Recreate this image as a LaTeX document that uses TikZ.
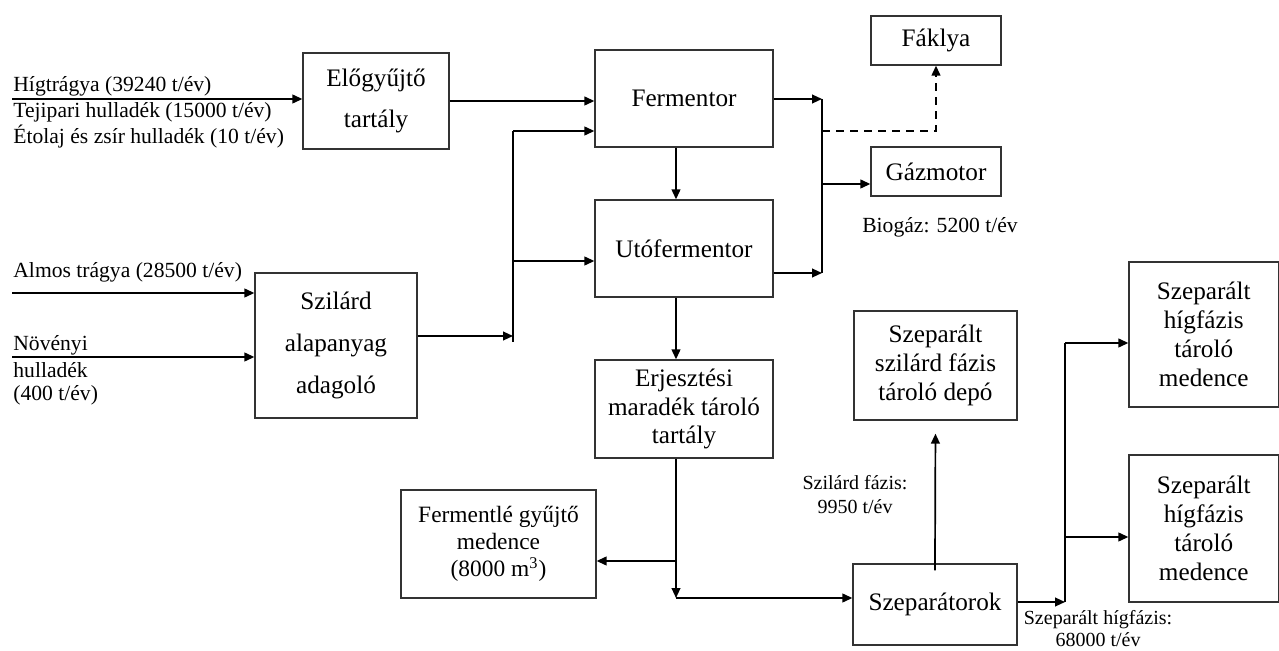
\documentclass[tikz,border=0pt]{standalone}
\usepackage{fontspec}
\setmainfont{Liberation Serif}
\usetikzlibrary{calc,arrows.meta}

\tikzset{
  doboz/.style={draw=black!80, line width=0.65pt, rectangle, align=center, inner sep=0pt},
  szoveg/.style={font=\fontsize{12.6}{14.4}\selectfont},
  ritka/.style={font=\fontsize{12.6}{20.8}\selectfont},
  nyil/.style={-{Triangle[length=5pt,width=4.4pt]}, line width=0.85pt},
  vonal/.style={line width=0.85pt},
  cimke/.style={font=\fontsize{10.8}{13}\selectfont, inner sep=0pt},
  kiscimke/.style={font=\fontsize{10}{11.5}\selectfont, inner sep=0pt},
}

\begin{document}
\begin{tikzpicture}[x=0.5pt,y=-0.5pt]
\useasboundingbox (0,0) rectangle (1279,651);

% tartalyok
\node [doboz, ritka, minimum width=73pt, minimum height=48pt] (elo) at (376,101) {Előgyűjtő\\tartály};
\node [doboz, ritka, minimum width=81pt, minimum height=72.5pt] (szil) at (336,345.5) {Szilárd\\alapanyag\\adagoló};
\node [doboz, szoveg, minimum width=89pt, minimum height=48.5pt] (ferm) at (684,98.5) {Fermentor};
\node [doboz, szoveg, minimum width=89pt, minimum height=48.5pt] (uto) at (684,248.5) {Utófermentor};
\node [doboz, szoveg, minimum width=89pt, minimum height=49pt] (erj) at (684,409) {Erjesztési\\maradék tároló\\tartály};
\node [doboz, szoveg, minimum width=65pt, minimum height=24.5pt] (fakl) at (936,40.5) {Fáklya};
\node [doboz, szoveg, minimum width=65pt, minimum height=24.5pt] (gaz) at (936,171.5) {Gázmotor};
\node [doboz, font=\fontsize{11.7}{13.6}\selectfont, minimum width=97.5pt, minimum height=54pt] (ferml) at (498.5,544) {Fermentlé gyűjtő\\medence\\(8000 m\textsuperscript{3})};
\node [doboz, szoveg, minimum width=82pt, minimum height=40.5pt] (sep) at (935,604.5) {Szeparátorok};
\node [doboz, szoveg, minimum width=81.5pt, minimum height=54.5pt] (depo) at (935.5,365.5) {Szeparált\\szilárd fázis\\tároló depó};
\node [doboz, szoveg, minimum width=74.75pt, minimum height=72.5pt] (hig1) at (1203.75,334.5) {Szeparált\\hígfázis\\tároló\\medence};
\node [doboz, szoveg, minimum width=74.75pt, minimum height=73.5pt] (hig2) at (1203.75,528.5) {Szeparált\\hígfázis\\tároló\\medence};

% bemenetek
\coordinate (be1) at (12,99);
\coordinate (be2) at (12,293);
\coordinate (be3) at (12,357);
\node [cimke, anchor=west] (hig) at (13,86) {Hígtrágya (39240 t/év)};
\node [cimke, anchor=west] (tej) at (13,112) {Tejipari hulladék (15000 t/év)};
\node [cimke, anchor=west] (eto) at (13,137) {Étolaj és zsír hulladék (10 t/év)};
\node [cimke, anchor=west] (alm) at (13,272) {Almos trágya (28500 t/év)};
\node [cimke, anchor=west] (nov1) at (13,345) {Növényi};
\node [cimke, anchor=west] (nov2) at (13,370) {hulladék};
\node [cimke, anchor=west] (nov3) at (13,395) {(400 t/év)};
\draw[nyil] (be1) -- (be1 -| elo.west);
\draw[nyil] (be2) -- (be2 -| szil.west);
\draw[nyil] (be3) -- (be3 -| szil.west);

\draw[nyil] (elo.east) -- (elo.east -| ferm.west);

% szilard ag
\coordinate (gy1) at (513,342);
\coordinate (gy1t) at (513,131);
\coordinate (gy1u) at (513,261);
\draw[vonal] (gy1) -- (gy1t);
\draw[nyil] ($(szil.east)+(0,-9.5)$) -- ($(szil.east -| gy1)+(0,-9.5)$);
\draw[nyil] (gy1t) -- (gy1t -| ferm.west);
\draw[nyil] (gy1u) -- (gy1u -| uto.west);

\draw[nyil] ($(ferm.south)+(-8,0)$) -- ($(uto.north)+(-8,0)$);
\draw[nyil] ($(uto.south)+(-8,0)$) -- ($(erj.north)+(-8,0)$);

% biogaz
\coordinate (gy2t) at (822,99);
\coordinate (gy2b) at (822,273);
\coordinate (gy2d) at (822,131);
\coordinate (gy2g) at (822,184);
\draw[vonal] (gy2t) -- (gy2b);
\draw[nyil] (ferm.east |- gy2t) -- (gy2t);
\draw[nyil] (uto.east |- gy2b) -- (gy2b);
\draw[nyil, dashed, dash pattern=on 4pt off 3pt] (gy2d) -- (gy2d -| fakl.south) -- (fakl.south);
\draw[nyil] (gy2g) -- (gy2g -| gaz.west);
\node [cimke] (bio) at (940,227) {Biogáz: 5200 t/év};

% erjesztesi maradek
\coordinate (sarok) at (676,598);
\coordinate (elag) at (676,561);
\draw[nyil] ($(erj.south)+(-8,0)$) -- (sarok);
\draw[nyil] (elag) -- (elag -| ferml.east);
\draw[nyil] (sarok) -- (sarok -| sep.west);

% szeparalas
\draw[nyil, shorten <=-3.5pt, shorten >=6.5pt] (sep.north) -- (depo.south);
\node [kiscimke] (szf1) at (855,483) {Szilárd fázis:};
\node [kiscimke] (szf2) at (855,507) {9950 t/év};

\coordinate (gy3) at (1065,602);
\coordinate (gy3a) at (1065,343);
\coordinate (gy3b) at (1065,537);
\draw[nyil] (sep.east |- gy3) -- (gy3);
\draw[vonal] (gy3) -- (gy3a);
\draw[nyil] (gy3a) -- (gy3a -| hig1.west);
\draw[nyil] (gy3b) -- (gy3b -| hig2.west);
\node [kiscimke] (shf1) at (1098,620) {Szeparált hígfázis:};
\node [kiscimke] (shf2) at (1098,640) {68000 t/év};

\end{tikzpicture}
\end{document}
